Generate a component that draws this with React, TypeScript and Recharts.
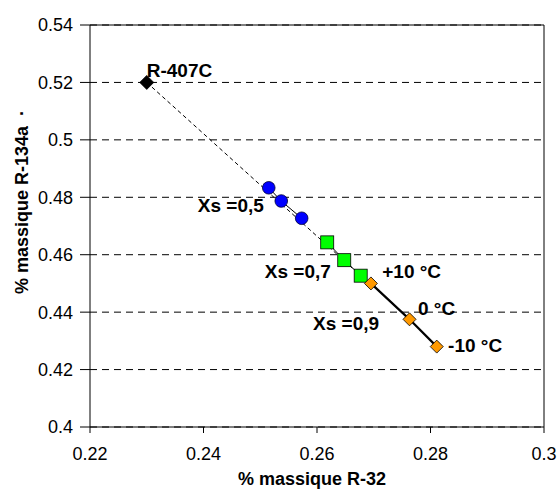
import { CartesianGrid, ReferenceLine, Scatter, ScatterChart, XAxis, YAxis } from 'recharts'

// R-32 / R-134a mass fractions
const r407c = [{ x: 0.23, y: 0.52 }]
const xs05 = [
  { x: 0.2515, y: 0.4833 },
  { x: 0.2537, y: 0.4787 },
  { x: 0.2573, y: 0.4727 },
]
const xs07 = [
  { x: 0.2618, y: 0.4643 },
  { x: 0.2648, y: 0.4581 },
  { x: 0.2677, y: 0.4527 },
]
const xs09 = [
  { x: 0.2695, y: 0.45 },
  { x: 0.2763, y: 0.4375 },
  { x: 0.2811, y: 0.428 },
]
// dashed guide from R-407C down the composition path
const guide = [
  { x: 0.23, y: 0.52 },
  { x: 0.2677, y: 0.4527 },
]
const annotations = [
  { x: 0.23, y: 0.5243, text: 'R-407C' },
  { x: 0.239, y: 0.477, text: 'Xs =0,5' },
  { x: 0.2508, y: 0.4541, text: 'Xs =0,7' },
  { x: 0.2715, y: 0.4541, text: '+10 °C' },
  { x: 0.2778, y: 0.4411, text: '0 °C' },
  { x: 0.2593, y: 0.4362, text: 'Xs =0,9' },
  { x: 0.2831, y: 0.4285, text: '-10 °C' },
]
const xTicks = [0.22, 0.24, 0.26, 0.28, 0.3]
const yTicks = [0.4, 0.42, 0.44, 0.46, 0.48, 0.5, 0.52, 0.54]

const FONT = '"Liberation Sans", Arial, sans-serif'

const Diamond = (fill: string, h: number) => (p: any) => (
  <polygon
    points={`${p.cx},${p.cy - h} ${p.cx + h},${p.cy} ${p.cx},${p.cy + h} ${p.cx - h},${p.cy}`}
    fill={fill}
    stroke="#000"
    strokeWidth={0.8}
  />
)

const Square = (p: any) => (
  <rect x={p.cx - 6.5} y={p.cy - 6.5} width={13} height={13} fill="#00ff00" stroke="#000" strokeWidth={0.8} />
)

const Circle = (p: any) => <circle cx={p.cx} cy={p.cy} r={6.3} fill="#0000ff" stroke="#000033" strokeWidth={0.8} />

const NoDot = () => <g />

const Note = (p: any) => (
  <text
    x={p.cx}
    y={p.cy}
    dominantBaseline="central"
    fontFamily={FONT}
    fontWeight="bold"
    fontSize={19}
    fill="#000"
  >
    {p.payload.text}
  </text>
)

export default function App() {
  return (
    <div style={{ fontFamily: FONT, position: 'absolute', left: 0, top: 0 }}>
      <ScatterChart width={560} height={489} margin={{ top: 25, right: 16, left: 0, bottom: 0 }}>
        <CartesianGrid horizontal vertical={false} stroke="#000" strokeDasharray="7 5" />
        <XAxis
          type="number"
          dataKey="x"
          domain={[0.22, 0.3]}
          ticks={xTicks}
          height={62}
          tickSize={6}
          tickMargin={14}
          stroke="#000"
          tick={{ fill: '#000', fontSize: 18, fontFamily: FONT }}
          allowDataOverflow
        />
        <YAxis
          type="number"
          dataKey="y"
          domain={[0.4, 0.54]}
          ticks={yTicks}
          width={90}
          tickSize={10}
          tickMargin={7}
          stroke="#000"
          tick={{ fill: '#000', fontSize: 18, fontFamily: FONT }}
          allowDataOverflow
        />
        <ReferenceLine y={0.54} stroke="#000" />
        <ReferenceLine x={0.3} stroke="#000" />
        <Scatter
          data={guide}
          line={{ stroke: '#000', strokeWidth: 1, strokeDasharray: '4 3' }}
          shape={NoDot}
          isAnimationActive={false}
        />
        <Scatter data={xs05} line={{ stroke: '#000', strokeWidth: 1 }} shape={Circle} isAnimationActive={false} />
        <Scatter data={xs07} line={{ stroke: '#000', strokeWidth: 1 }} shape={Square} isAnimationActive={false} />
        <Scatter
          data={xs09}
          line={{ stroke: '#000', strokeWidth: 2.2 }}
          shape={Diamond('#ff9900', 6.5)}
          isAnimationActive={false}
        />
        <Scatter data={r407c} shape={Diamond('#000', 7)} isAnimationActive={false} />
        <Scatter data={annotations} shape={Note} isAnimationActive={false} />
        <text
          transform="translate(22, 202) rotate(-90)"
          textAnchor="middle"
          dominantBaseline="central"
          fontFamily={FONT}
          fontWeight="bold"
          fontSize={18}
          fill="#000"
        >
          {'% massique R-134a\u00a0\u00a0·'}
        </text>
        <text x={312} y={485} textAnchor="middle" fontFamily={FONT} fontWeight="bold" fontSize={18} fill="#000">
          % massique R-32
        </text>
      </ScatterChart>
    </div>
  )
}
